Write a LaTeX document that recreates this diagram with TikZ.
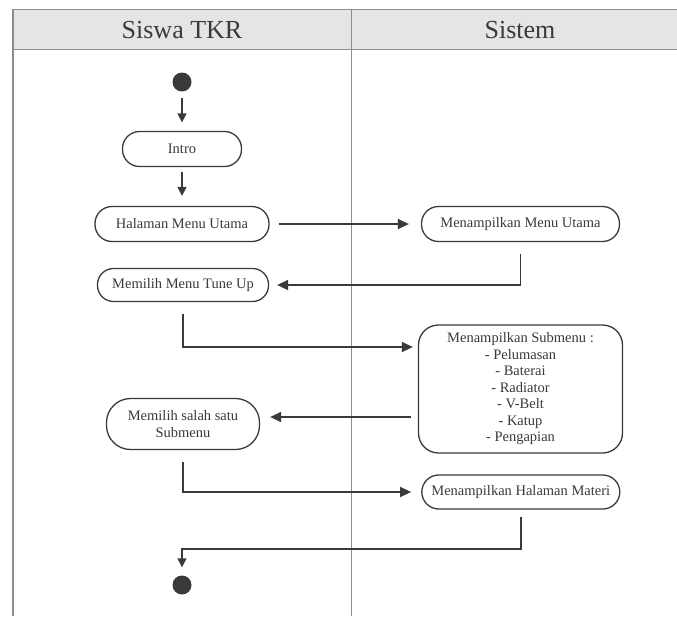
\documentclass[tikz,border=0pt]{standalone}
\usepackage{fontspec}
\setmainfont{Liberation Serif}
\usetikzlibrary{arrows.meta,calc}
\definecolor{ink}{HTML}{3A3A3A}
\definecolor{lane}{HTML}{8E8E8E}
\definecolor{headfill}{HTML}{E5E5E7}
\tikzset{
  act/.style={draw=ink, line width=1.3pt, text=ink, font=\fontsize{14.5}{16.5}\selectfont,
              align=center, inner sep=0pt},
  pill/.style={act, rounded corners=17pt, minimum height=35pt},
  dot/.style={circle, fill=ink, draw=none, minimum size=19pt, inner sep=0pt},
  flow/.style={draw=ink, line width=1.4pt, -{Triangle[length=11pt,width=10pt]}},
  smallflow/.style={draw=ink, line width=1.4pt, -{Triangle[length=9pt,width=9pt]}},
  lanehead/.style={text=ink, font=\fontsize{26}{28}\selectfont}
}
\begin{document}
\begin{tikzpicture}[x=1pt, y=-1pt]
\useasboundingbox (0,0) rectangle (677,616);
\fill[white] (0,0) rectangle (677,616);

% swimlane frame and header
\fill[headfill] (13,9.5) rectangle (677,49.5);
\draw[lane, line width=1.3pt] (677,9.5) -- (13,9.5) -- (13,616);
\draw[lane, line width=1pt] (13,49.5) -- (677,49.5);
\draw[lane, line width=1pt] (351.5,9.5) -- (351.5,616);
\node[lanehead] (h1) at (182,30) {Siswa TKR};
\node[lanehead] (h2) at (520,30) {Sistem};

% activities
\node[dot] (start) at (182,82) {};
\node[pill, minimum width=119pt] (intro) at (182,149) {Intro};
\node[pill, minimum width=174pt] (hmu) at (182,224) {Halaman Menu Utama};
\node[pill, minimum width=198pt] (mmu) at (520.5,224) {Menampilkan Menu Utama};
\node[pill, minimum width=171pt, minimum height=33pt, rounded corners=16pt] (mtu) at (183,285) {Memilih Menu Tune Up};
\node[act, minimum width=204pt, minimum height=128pt, rounded corners=20pt] (sub) at (520.5,389)
  {Menampilkan Submenu :\\- Pelumasan\\- Baterai\\- Radiator\\- V-Belt\\- Katup\\- Pengapian};
\node[act, minimum width=153pt, minimum height=51pt, rounded corners=24pt] (ms) at (183,424) {Memilih salah satu\\Submenu};
\node[pill, minimum width=198pt, minimum height=34pt] (mhm) at (520.8,492) {Menampilkan Halaman Materi};
\node[dot] (end) at (182,585) {};

% transitions
\draw[smallflow, shorten <=6.5pt, shorten >=8.5pt] (start) -- (intro);
\draw[smallflow, shorten <=5pt, shorten >=10pt] (intro) -- (hmu);
\draw[flow, shorten <=9pt, shorten >=12pt] (hmu) -- (mmu);
\draw[flow, shorten <=12pt, shorten >=8pt] (mmu.south) |- (mtu.east);
\draw[flow, shorten <=12pt, shorten >=5pt] (mtu.south) |- ([yshift=42pt]sub.west);
\draw[flow, shorten <=7pt, shorten >=10pt] ([yshift=-28pt]sub.west) -- ([yshift=-28pt]sub.west -| ms.east);
\draw[flow, shorten <=12pt, shorten >=10pt] (ms.south) |- (mhm.west);
\coordinate (turn) at (520.8,549);
\draw[smallflow, shorten <=7pt, shorten >=8pt] (mhm.south) -- (turn) -| (end);
\end{tikzpicture}
\end{document}
